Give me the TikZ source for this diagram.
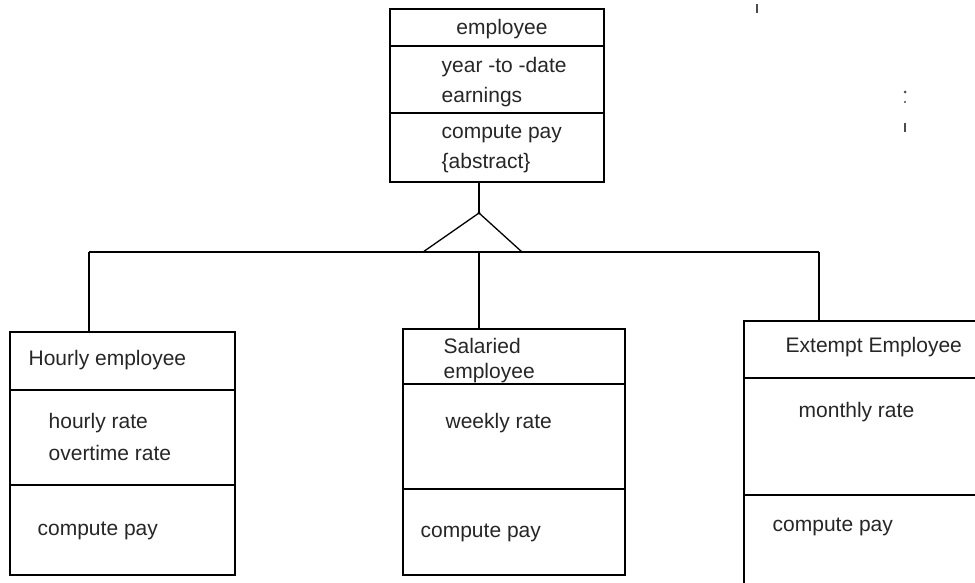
\documentclass[tikz,border=0pt]{standalone}
\usepackage{fontspec}
\setmainfont{Liberation Sans}
\usetikzlibrary{calc}

\begin{document}
\begin{tikzpicture}[x=1pt,y=-1pt,line width=1.3pt,
    compart/.style={draw, anchor=north west, inner sep=0pt, outer sep=0pt},
    txt/.style={anchor=west, inner sep=0pt, text=black!85,
      font=\fontsize{21}{25}\selectfont}]
  \clip (0,0) rectangle (975,582);
  % base class
  \node[compart, minimum width=214pt, minimum height=37pt] (emp-name) at (390,9) {};
  \node[compart, minimum width=214pt, minimum height=67pt] (emp-attr) at (emp-name.south west) {};
  \node[compart, minimum width=214pt, minimum height=69pt] (emp-ops) at (emp-attr.south west) {};
  \node[txt, anchor=center] (emp-t) at (502,29) {employee};
  \node[txt] (emp-a1) at (441,67) {year -to -date};
  \node[txt] (emp-a2) at (441,97) {earnings};
  \node[txt] (emp-o1) at (441,134) {compute pay};
  \node[txt] (emp-o2) at (441,163) {\{abstract\}};
  % subclasses
  \node[compart, minimum width=225pt, minimum height=58pt] (hour-name) at (10,332) {};
  \node[compart, minimum width=225pt, minimum height=95pt] (hour-attr) at (hour-name.south west) {};
  \node[compart, minimum width=225pt, minimum height=90pt] (hour-ops) at (hour-attr.south west) {};
  \node[txt] (hour-t) at (28,360) {Hourly employee};
  \node[txt] (hour-a1) at (48,423) {hourly rate};
  \node[txt] (hour-a2) at (48,453) {overtime rate};
  \node[txt] (hour-o1) at (37,531) {compute pay};

  \node[compart, minimum width=222pt, minimum height=55pt] (sal-name) at (403,329) {};
  \node[compart, minimum width=222pt, minimum height=105pt] (sal-attr) at (sal-name.south west) {};
  \node[compart, minimum width=222pt, minimum height=86pt] (sal-ops) at (sal-attr.south west) {};
  \node[txt] (sal-t1) at (443,346) {Salaried};
  \node[txt] (sal-t2) at (443,373) {employee};
  \node[txt] (sal-a1) at (445,423) {weekly rate};
  \node[txt] (sal-o1) at (420,533) {compute pay};

  \node[compart, minimum width=260pt, minimum height=57pt] (ext-name) at (744,321) {};
  \node[compart, minimum width=260pt, minimum height=117pt] (ext-attr) at (ext-name.south west) {};
  \node[compart, minimum width=260pt, minimum height=110pt] (ext-ops) at (ext-attr.south west) {};
  \node[txt] (ext-t) at (785,347) {Extempt Employee};
  \node[txt] (ext-a1) at (798,412) {monthly rate};
  \node[txt] (ext-o1) at (772,527) {compute pay};
  % generalisation
  \coordinate (apex) at (479,213);
  \coordinate (tri-l) at (423,252); \coordinate (tri-r) at (522,252);
  \coordinate (bus-l) at (89,252); \coordinate (bus-m) at (479,252); \coordinate (bus-r) at (819,252);
  \draw (emp-ops.south -| apex) -- (apex);
  \draw (tri-l) -- (apex) -- (tri-r);
  \fill (apex) circle (1.6pt);
  \draw (bus-l) -- (bus-r);
  \draw (bus-l) -- (hour-name.north -| bus-l);
  \draw (bus-m) -- (sal-name.north -| bus-m);
  \draw (bus-r) -- (ext-name.north -| bus-r);
  % stray marks
  \draw[black!70, line width=1.3pt] (757,4) -- (757,13);
  \fill[black!70] (905,92) circle (1.5pt) (905,102) circle (1.2pt);
  \draw[black!70, line width=1.3pt] (905,123) -- (905,132);
\end{tikzpicture}
\end{document}
